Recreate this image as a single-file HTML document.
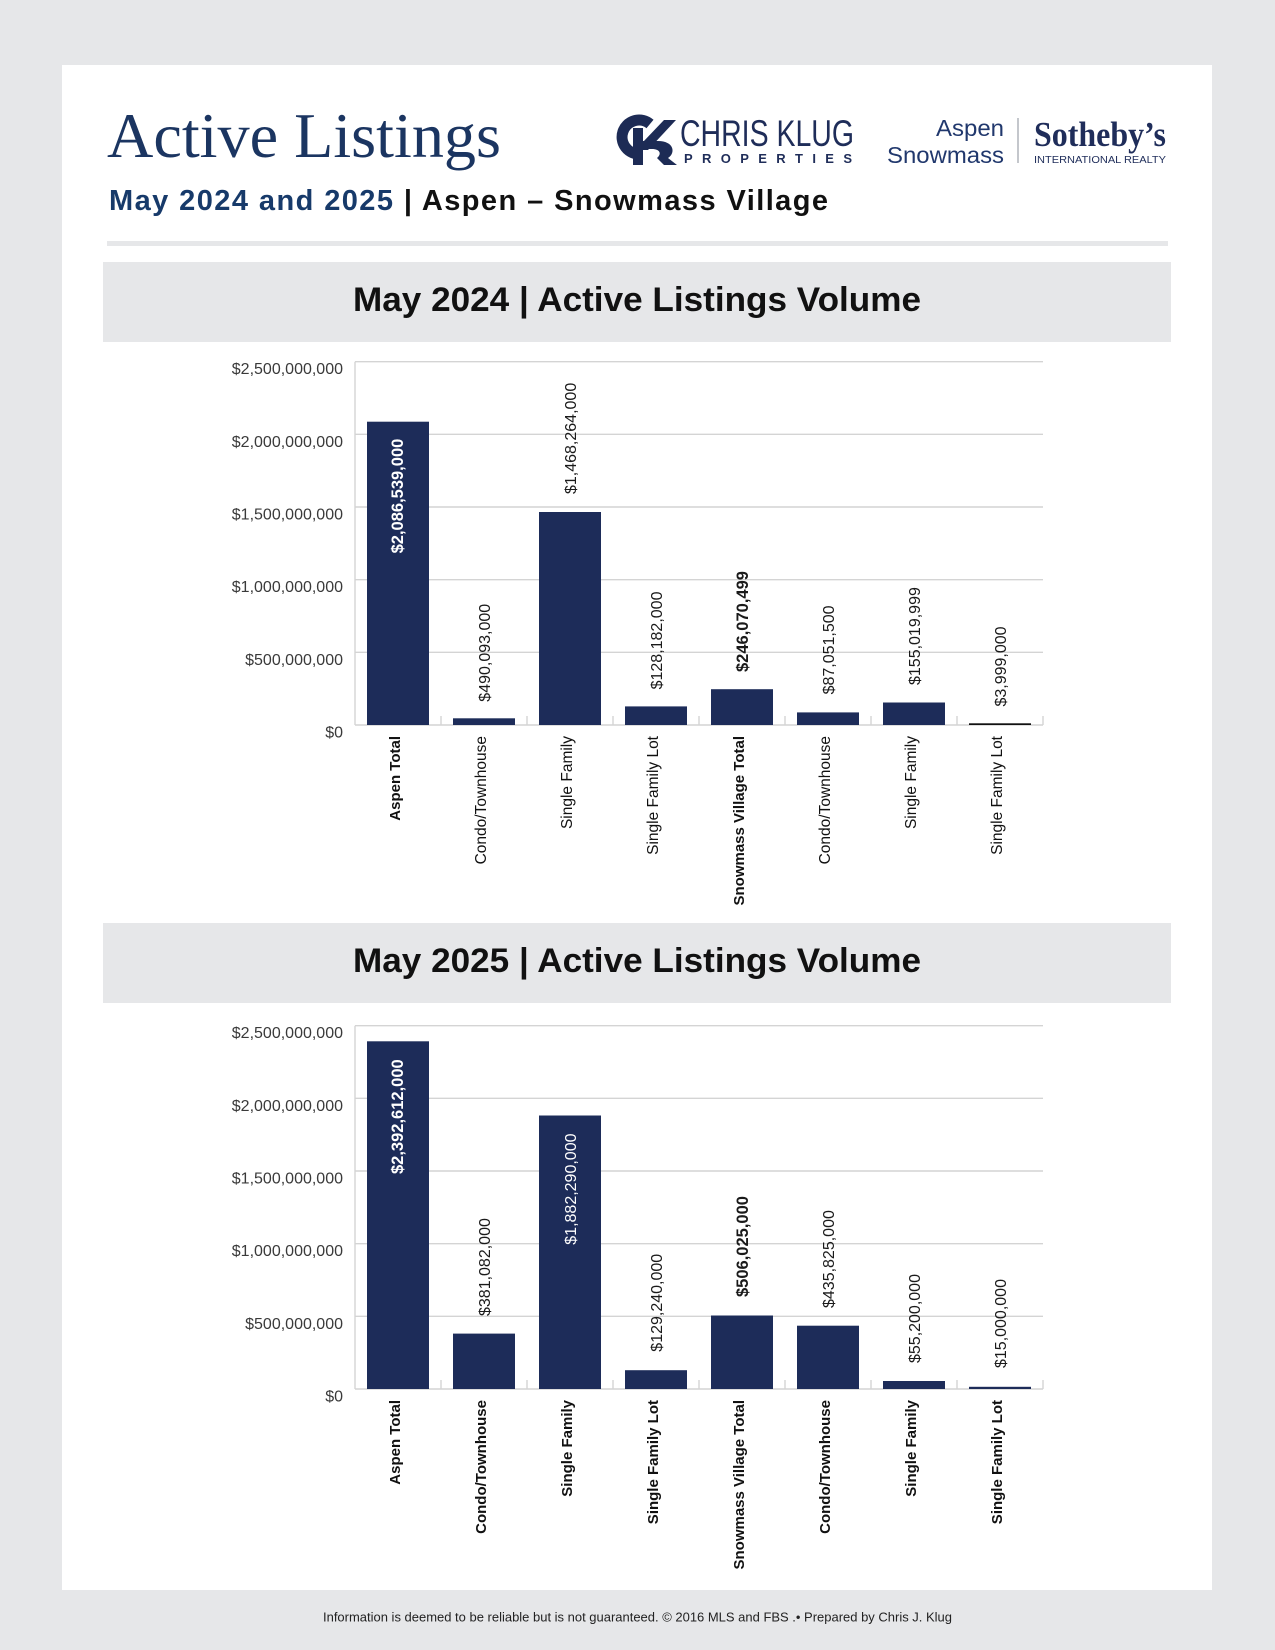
<!DOCTYPE html>
<html>
<head>
<meta charset="utf-8">
<style>
  html,body{margin:0;padding:0;background:#e6e7e9;}
  svg{display:block;}
  .sans{font-family:"Liberation Sans",Arial,sans-serif;}
  .serif{font-family:"Liberation Serif","Times New Roman",serif;}
</style>
</head>
<body>
<svg width="1275" height="1650" viewBox="0 0 1275 1650" xmlns="http://www.w3.org/2000/svg">
  <!-- background -->
  <rect x="0" y="0" width="1275" height="1650" fill="#e6e7e9"/>
  <rect x="62" y="65" width="1150" height="1525" fill="#ffffff"/>

  <!-- Title -->
  <text class="serif" x="107" y="157" font-size="64" fill="#1b3561" textLength="394" lengthAdjust="spacingAndGlyphs">Active Listings</text>
  <text class="sans" x="109" y="210" font-size="29" font-weight="bold" textLength="719" lengthAdjust="spacing"><tspan fill="#173a6a">May 2024 and 2025 </tspan><tspan fill="#111111">| Aspen – Snowmass Village</tspan></text>

  <!-- CK monogram -->
  <g fill="none" stroke="#1d2b55">
    <path d="M650,124 A17,17 0 1 0 640,154" stroke-width="11"/>
  </g>
  <g fill="#1d2b55">
    <rect x="633" y="128" width="10" height="37"/>
    <polygon points="643,142 664,120 676,120 648,150 643,150"/>
    <path d="M643,141 L658,141 C674,141 676,153 668,158 L677,165 L664,165 L657,158 C662,154 660,149 652,149 L643,149 Z"/>
  </g>
  <text class="sans" x="680" y="146" font-size="37" fill="#1f2d59" textLength="174" lengthAdjust="spacingAndGlyphs">CHRIS KLUG</text>
  <text class="sans" x="684" y="163" font-size="13" font-weight="bold" fill="#1f2d59" textLength="168" lengthAdjust="spacing">PROPERTIES</text>

  <!-- Aspen Snowmass Sotheby's -->
  <text class="sans" x="1004" y="136" font-size="23" fill="#21386d" text-anchor="end" textLength="68" lengthAdjust="spacingAndGlyphs">Aspen</text>
  <text class="sans" x="887" y="163" font-size="23" fill="#21386d" textLength="117" lengthAdjust="spacingAndGlyphs">Snowmass</text>
  <line x1="1018" y1="118" x2="1018" y2="163" stroke="#8a8f9a" stroke-width="1"/>
  <text class="serif" x="1034" y="146" font-size="35" font-weight="bold" fill="#1f2d5a" textLength="132" lengthAdjust="spacingAndGlyphs">Sotheby’s</text>
  <text class="sans" x="1034" y="163" font-size="10.5" fill="#1f2d5a" textLength="132" lengthAdjust="spacingAndGlyphs">INTERNATIONAL REALTY</text>

  <!-- divider line -->
  <rect x="107" y="241" width="1061" height="5" fill="#e6e7e9"/>

  <!-- ============ Chart 1 ============ -->
  <rect x="103" y="262" width="1068" height="80" fill="#e6e7e9"/>
  <text class="sans" x="637" y="311" font-size="34" font-weight="bold" fill="#111" text-anchor="middle" textLength="568" lengthAdjust="spacingAndGlyphs">May 2024 | Active Listings Volume</text>

  <g stroke="#d4d4d4" stroke-width="1.4">
    <line x1="355" y1="361.7" x2="1043" y2="361.7"/>
    <line x1="355" y1="434.3" x2="1043" y2="434.3"/>
    <line x1="355" y1="507" x2="1043" y2="507"/>
    <line x1="355" y1="579.7" x2="1043" y2="579.7"/>
    <line x1="355" y1="652.3" x2="1043" y2="652.3"/>
    <line x1="355" y1="725" x2="1043" y2="725"/>
    <line x1="355" y1="361.7" x2="355" y2="725"/>
    <line x1="441" y1="716" x2="441" y2="725"/>
    <line x1="527" y1="716" x2="527" y2="725"/>
    <line x1="613" y1="716" x2="613" y2="725"/>
    <line x1="699" y1="716" x2="699" y2="725"/>
    <line x1="785" y1="716" x2="785" y2="725"/>
    <line x1="871" y1="716" x2="871" y2="725"/>
    <line x1="957" y1="716" x2="957" y2="725"/>
    <line x1="1043" y1="716" x2="1043" y2="725"/>
  </g>
  <g class="sans" font-size="16" fill="#3a3a3a" text-anchor="end">
    <text x="343" y="374">$2,500,000,000</text>
    <text x="343" y="446.8">$2,000,000,000</text>
    <text x="343" y="519.5">$1,500,000,000</text>
    <text x="343" y="592.2">$1,000,000,000</text>
    <text x="343" y="664.8">$500,000,000</text>
    <text x="343" y="737.5">$0</text>
  </g>
  <g fill="#1d2c59">
    <rect x="367" y="421.7" width="62" height="303.3"/>
    <rect x="453" y="718.3" width="62" height="6.7"/>
    <rect x="539" y="512" width="62" height="213"/>
    <rect x="625" y="706.4" width="62" height="18.6"/>
    <rect x="711" y="689.2" width="62" height="35.8"/>
    <rect x="797" y="712.4" width="62" height="12.6"/>
    <rect x="883" y="702.5" width="62" height="22.5"/>
    <rect x="969" y="723.3" width="62" height="1.7" fill="#111"/>
  </g>
  <!-- value labels chart 1 -->
  <g class="sans" font-size="16" fill="#1a1a1a">
    <text transform="translate(403,438.7) rotate(-90)" text-anchor="end" fill="#ffffff" font-weight="bold" font-size="16.5">$2,086,539,000</text>
    <text transform="translate(490,701.7) rotate(-90)">$490,093,000</text>
    <text transform="translate(576,494) rotate(-90)">$1,468,264,000</text>
    <text transform="translate(662,689.4) rotate(-90)">$128,182,000</text>
    <text transform="translate(748,672) rotate(-90)" font-weight="bold" font-size="16.5">$246,070,499</text>
    <text transform="translate(834,694.4) rotate(-90)">$87,051,500</text>
    <text transform="translate(920,685) rotate(-90)">$155,019,999</text>
    <text transform="translate(1006,706.5) rotate(-90)">$3,999,000</text>
  </g>
  <!-- category labels chart 1 -->
  <g class="sans" font-size="15.5" fill="#111" text-anchor="end">
    <text transform="translate(400,736) rotate(-90)" font-weight="bold" font-size="15">Aspen Total</text>
    <text transform="translate(486,736) rotate(-90)">Condo/Townhouse</text>
    <text transform="translate(572,736) rotate(-90)">Single Family</text>
    <text transform="translate(658,736) rotate(-90)">Single Family Lot</text>
    <text transform="translate(744,736) rotate(-90)" font-weight="bold" font-size="15">Snowmass Village Total</text>
    <text transform="translate(830,736) rotate(-90)">Condo/Townhouse</text>
    <text transform="translate(916,736) rotate(-90)">Single Family</text>
    <text transform="translate(1002,736) rotate(-90)">Single Family Lot</text>
  </g>

  <!-- ============ Chart 2 ============ -->
  <rect x="103" y="923" width="1068" height="80" fill="#e6e7e9"/>
  <text class="sans" x="637" y="972" font-size="34" font-weight="bold" fill="#111" text-anchor="middle" textLength="568" lengthAdjust="spacingAndGlyphs">May 2025 | Active Listings Volume</text>

  <g stroke="#d4d4d4" stroke-width="1.4">
    <line x1="355" y1="1025.7" x2="1043" y2="1025.7"/>
    <line x1="355" y1="1098.3" x2="1043" y2="1098.3"/>
    <line x1="355" y1="1171" x2="1043" y2="1171"/>
    <line x1="355" y1="1243.7" x2="1043" y2="1243.7"/>
    <line x1="355" y1="1316.3" x2="1043" y2="1316.3"/>
    <line x1="355" y1="1389" x2="1043" y2="1389"/>
    <line x1="355" y1="1025.7" x2="355" y2="1389"/>
    <line x1="441" y1="1380" x2="441" y2="1389"/>
    <line x1="527" y1="1380" x2="527" y2="1389"/>
    <line x1="613" y1="1380" x2="613" y2="1389"/>
    <line x1="699" y1="1380" x2="699" y2="1389"/>
    <line x1="785" y1="1380" x2="785" y2="1389"/>
    <line x1="871" y1="1380" x2="871" y2="1389"/>
    <line x1="957" y1="1380" x2="957" y2="1389"/>
    <line x1="1043" y1="1380" x2="1043" y2="1389"/>
  </g>
  <g class="sans" font-size="16" fill="#3a3a3a" text-anchor="end">
    <text x="343" y="1038">$2,500,000,000</text>
    <text x="343" y="1110.8">$2,000,000,000</text>
    <text x="343" y="1183.5">$1,500,000,000</text>
    <text x="343" y="1256.2">$1,000,000,000</text>
    <text x="343" y="1328.8">$500,000,000</text>
    <text x="343" y="1401.5">$0</text>
  </g>
  <g fill="#1d2c59">
    <rect x="367" y="1041.3" width="62" height="347.7"/>
    <rect x="453" y="1333.6" width="62" height="55.4"/>
    <rect x="539" y="1115.5" width="62" height="273.5"/>
    <rect x="625" y="1370.2" width="62" height="18.8"/>
    <rect x="711" y="1315.5" width="62" height="73.5"/>
    <rect x="797" y="1325.7" width="62" height="63.3"/>
    <rect x="883" y="1381" width="62" height="8"/>
    <rect x="969" y="1386.8" width="62" height="2.2"/>
  </g>
  <!-- value labels chart 2 -->
  <g class="sans" font-size="16" fill="#1a1a1a">
    <text transform="translate(403,1059.3) rotate(-90)" text-anchor="end" fill="#ffffff" font-weight="bold" font-size="16.5">$2,392,612,000</text>
    <text transform="translate(490,1316) rotate(-90)">$381,082,000</text>
    <text transform="translate(576,1133.5) rotate(-90)" text-anchor="end" fill="#ffffff">$1,882,290,000</text>
    <text transform="translate(662,1351.7) rotate(-90)">$129,240,000</text>
    <text transform="translate(748,1297) rotate(-90)" font-weight="bold" font-size="16.5">$506,025,000</text>
    <text transform="translate(834,1308) rotate(-90)">$435,825,000</text>
    <text transform="translate(920,1363) rotate(-90)">$55,200,000</text>
    <text transform="translate(1006,1368) rotate(-90)">$15,000,000</text>
  </g>
  <!-- category labels chart 2 -->
  <g class="sans" font-size="15" font-weight="bold" fill="#111" text-anchor="end">
    <text transform="translate(400,1400) rotate(-90)">Aspen Total</text>
    <text transform="translate(486,1400) rotate(-90)">Condo/Townhouse</text>
    <text transform="translate(572,1400) rotate(-90)">Single Family</text>
    <text transform="translate(658,1400) rotate(-90)">Single Family Lot</text>
    <text transform="translate(744,1400) rotate(-90)">Snowmass Village Total</text>
    <text transform="translate(830,1400) rotate(-90)">Condo/Townhouse</text>
    <text transform="translate(916,1400) rotate(-90)">Single Family</text>
    <text transform="translate(1002,1400) rotate(-90)">Single Family Lot</text>
  </g>

  <!-- footer -->
  <text class="sans" x="637.5" y="1621.5" font-size="13" fill="#222" text-anchor="middle" textLength="629" lengthAdjust="spacingAndGlyphs">Information is deemed to be reliable but is not guaranteed. © 2016 MLS and FBS .• Prepared by Chris J. Klug</text>
</svg>
</body>
</html>
